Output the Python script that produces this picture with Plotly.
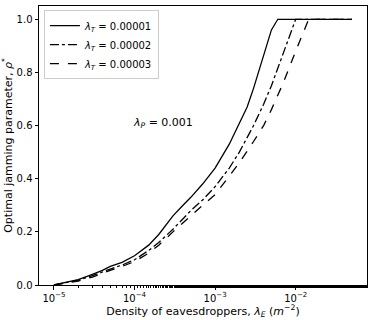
import plotly.graph_objects as go

# density of eavesdroppers (m^-2)
lam_e_1 = [1e-5, 2e-5, 3e-5, 4e-5, 5e-5, 7e-5, 1e-4, 1.5e-4, 2e-4, 3e-4, 4e-4, 5e-4, 7e-4,
           1e-3, 1.5e-3, 2e-3, 2.5e-3, 3e-3, 4e-3, 5e-3, 6e-3, 1e-2, 2e-2, 5e-2]
rho_1 = [0.0, 0.02, 0.04, 0.055, 0.07, 0.085, 0.11, 0.15, 0.19, 0.26, 0.30, 0.33, 0.38,
         0.44, 0.53, 0.61, 0.67, 0.74, 0.86, 0.96, 1.0, 1.0, 1.0, 1.0]

lam_e_2 = [1e-5, 2e-5, 3e-5, 4e-5, 5e-5, 7e-5, 1e-4, 1.5e-4, 2e-4, 3e-4, 4e-4, 5e-4, 7e-4,
           1e-3, 1.5e-3, 2e-3, 3e-3, 4e-3, 5e-3, 7e-3, 1e-2, 2e-2, 5e-2]
rho_2 = [0.0, 0.018, 0.035, 0.05, 0.06, 0.075, 0.095, 0.13, 0.16, 0.21, 0.25, 0.28, 0.32,
         0.37, 0.44, 0.50, 0.60, 0.68, 0.75, 0.87, 1.0, 1.0, 1.0]

lam_e_3 = [1e-5, 2e-5, 3e-5, 4e-5, 5e-5, 7e-5, 1e-4, 1.5e-4, 2e-4, 3e-4, 4e-4, 5e-4, 7e-4,
           1e-3, 1.5e-3, 2e-3, 3e-3, 4e-3, 5e-3, 7e-3, 1e-2, 1.45e-2, 2e-2, 5e-2]
rho_3 = [0.0, 0.015, 0.03, 0.045, 0.055, 0.07, 0.088, 0.12, 0.15, 0.20, 0.235, 0.26, 0.30,
         0.34, 0.41, 0.46, 0.54, 0.60, 0.66, 0.76, 0.88, 1.0, 1.0, 1.0]

series = [
    ("<i>λ</i><sub><i>T</i></sub> = 0.00001", lam_e_1, rho_1, "solid"),
    ("<i>λ</i><sub><i>T</i></sub> = 0.00002", lam_e_2, rho_2, "dashdot"),
    ("<i>λ</i><sub><i>T</i></sub> = 0.00003", lam_e_3, rho_3, "dash"),
]

x_ticks = [1e-5, 1e-4, 1e-3, 1e-2]
x_tick_text = ["10<sup>−5</sup>", "10<sup>−4</sup>", "10<sup>−3</sup>", "10<sup>−2</sup>"]
y_ticks = [0.0, 0.2, 0.4, 0.6, 0.8, 1.0]

fig = go.Figure()
for name, xs, ys, dash in series:
    fig.add_trace(go.Scatter(
        x=xs, y=ys, mode="lines", name=name,
        line=dict(color="black", width=1.3, dash=dash),
    ))

fig.add_annotation(
    x=-3.65, y=0.61, xref="x", yref="y", showarrow=False,
    text="<i>λ</i><sub><i>P</i></sub> = 0.001", font=dict(size=11, color="black"),
)

fig.update_layout(
    width=374, height=320,
    margin=dict(l=39, r=7, t=5, b=34),
    paper_bgcolor="white", plot_bgcolor="white",
    font=dict(family="DejaVu Sans", size=10, color="black"),
    showlegend=True,
    legend=dict(
        x=0.015, y=0.985, xanchor="left", yanchor="top",
        bgcolor="white", bordercolor="#cccccc", borderwidth=1,
        font=dict(size=10), tracegroupgap=0, itemwidth=30,
    ),
    xaxis=dict(
        type="log", range=[-5.185, -1.115],
        tickvals=x_ticks, ticktext=x_tick_text,
        ticks="outside", ticklen=3.5, tickcolor="black",
        minor=dict(ticks="outside", ticklen=2, tickcolor="black", showgrid=False),
        showline=True, linecolor="black", linewidth=1, mirror=True,
        showgrid=False, zeroline=False,
        title=dict(text="Density of eavesdroppers, <i>λ</i><sub><i>E</i></sub> (<i>m</i><sup>−2</sup>)",
                   font=dict(size=11), standoff=4),
    ),
    yaxis=dict(
        range=[0, 1.05], tickvals=y_ticks, tickformat=".1f",
        ticks="outside", ticklen=3.5, tickcolor="black",
        showline=True, linecolor="black", linewidth=1, mirror=True,
        showgrid=False, zeroline=False,
        title=dict(text="Optimal jamming parameter, <i>ρ</i><sup>*</sup>",
                   font=dict(size=11), standoff=4),
    ),
)

# the page body has a default 8px margin; remove it so the figure sits at the window corner
fig.write_html("out.html", config={"displayModeBar": False},
               post_script="document.body.style.margin='0';")
